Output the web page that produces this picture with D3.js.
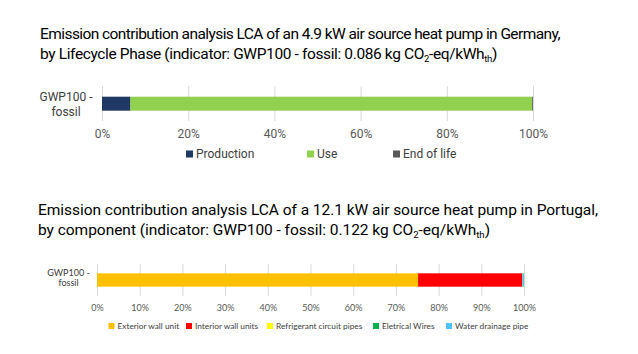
<!DOCTYPE html>
<html>
<head>
<meta charset="utf-8">
<script src="https://cdn.jsdelivr.net/npm/d3@7"></script>
<style>
  body { margin: 0; background: #fff; }
  svg { display: block; }
</style>
</head>
<body>
<svg width="638" height="354"></svg>
<script>
// ---- data
const indicator = 'GWP100 - fossil';

const phases = ['Production', 'Use', 'End of life'];
const phaseShares = [6.6, 93.2, 0.2];
const phaseColors = ['#1f3864', '#92d050', '#595959'];
const phaseTicks = [0, 20, 40, 60, 80, 100];

const components = ['Exterior wall unit', 'Interior wall units', 'Refrigerant circuit pipes', 'Eletrical Wires', 'Water drainage pipe'];
const componentShares = [75.2, 24.4, 0.05, 0.05, 0.3];
const componentColors = ['#ffc000', '#ff0000', '#ffff00', '#00b050', '#4fc3f7'];
const componentTicks = [0, 10, 20, 30, 40, 50, 60, 70, 80, 90, 100];

const svg = d3.select('svg');
svg.append('rect').attr('width', 638).attr('height', 354).attr('fill', '#fff');

// title lines, subscripts as small lowered tspans; letter-spacing stretches to target width
function title(x, y, lines, size, widths) {
    lines.forEach((parts, i) => {
        const t = svg.append('text')
            .attr('x', x).attr('y', y + i * 20)
            .attr('font-family', 'Roboto, sans-serif')
            .attr('font-size', size)
            .attr('fill', '#000');
        let n = 0;
        parts.forEach(p => {
            if (typeof p === 'string') {
                t.append('tspan').attr('dy', p.dy || null).text(p);
                n += p.length;
            } else {
                t.append('tspan').attr('dy', 3).attr('font-size', size * 0.62).text(p.sub);
                t.append('tspan').attr('dy', -3).text(p.after);
                n += p.sub.length + p.after.length;
            }
        });
        const w = t.node().getComputedTextLength();
        t.attr('letter-spacing', (widths[i] - w) / n);
    });
}

function panel(o) {
    const g = svg.append('g').attr('transform', `translate(${o.left}, ${o.top})`);
    const x = d3.scaleLinear().domain([0, 100]).range([0, o.width]);

    g.append('g')
        .attr('transform', `translate(0, ${o.gridH})`)
        .call(d3.axisBottom(x).tickValues(o.ticks).tickSize(-o.gridH).tickFormat(d => d + '%'))
        .call(a => a.select('.domain').remove())
        .call(a => a.selectAll('line').attr('stroke', '#d9d9d9'))
        .call(a => a.selectAll('text')
            .attr('font-family', o.font).attr('font-size', o.tickSize)
            .attr('fill', '#595959').attr('dy', o.tickDy));

    const row = {};
    o.keys.forEach((k, i) => row[k] = o.values[i]);
    const stack = d3.stack().keys(o.keys)([row]);
    const color = d3.scaleOrdinal().domain(o.keys).range(o.colors);

    g.append('g').selectAll('rect')
        .data(stack)
        .join('rect')
        .attr('x', d => x(d[0][0]))
        .attr('width', d => x(d[0][1]) - x(d[0][0]))
        .attr('y', o.barY)
        .attr('height', o.barH)
        .attr('fill', d => color(d.key));

    // category label
    const lab = g.append('text')
        .attr('text-anchor', 'middle')
        .attr('font-family', o.font).attr('font-size', o.labelSize)
        .attr('fill', '#404040');
    const words = indicator.split(' - ');
    lab.append('tspan').attr('x', o.labelX).attr('y', o.labelY).text(words[0] + ' -');
    lab.append('tspan').attr('x', o.labelX).attr('y', o.labelY + o.labelGap).text(words[1]);

    // legend
    const lg = g.append('g').attr('transform', `translate(0, ${o.legendY})`);
    const items = lg.selectAll('g').data(o.keys).join('g')
        .attr('transform', (d, i) => `translate(${o.legendX[i]}, 0)`);
    items.append('rect')
        .attr('x', 0).attr('y', -o.sq / 2).attr('width', o.sq).attr('height', o.sq)
        .attr('fill', d => color(d));
    items.append('text')
        .attr('x', o.sq + o.legendPad).attr('dy', '0.35em')
        .attr('font-family', o.font).attr('font-size', o.legendSize)
        .attr('fill', '#404040')
        .text(d => d);
}

title(40, 39, [
    ['Emission contribution analysis LCA of an 4.9 kW air source heat pump in Germany,'],
    ['by Lifecycle Phase (indicator: GWP100 - fossil: 0.086 kg CO', {sub: '2', after: '-eq/kWh'}, {sub: 'th', after: ')'}]
], 15.5, [520, 457]);

panel({
    left: 102, top: 86, width: 431, gridH: 35,
    ticks: phaseTicks, keys: phases, values: phaseShares, colors: phaseColors,
    barY: 10.7, barH: 14,
    font: 'Roboto, sans-serif', tickSize: 12, tickDy: '1.15em',
    labelX: -36, labelY: 14.5, labelGap: 15, labelSize: 12,
    legendY: 68, legendX: [84, 205, 291], sq: 7, legendPad: 3, legendSize: 12
});

title(38, 215, [
    ['Emission contribution analysis LCA of a 12.1 kW air source heat pump in Portugal,'],
    ['by component (indicator: GWP100 - fossil: 0.122 kg CO', {sub: '2', after: '-eq/kWh'}, {sub: 'th', after: ')'}]
], 15.5, [560, 452]);

panel({
    left: 97, top: 264, width: 427, gridH: 32,
    ticks: componentTicks, keys: components, values: componentShares, colors: componentColors,
    barY: 9.3, barH: 13.4,
    font: 'Lato, sans-serif', tickSize: 9, tickDy: '1.3em',
    labelX: -28.5, labelY: 12, labelGap: 10, labelSize: 9,
    legendY: 62, legendX: [11.5, 89, 170, 276, 349], sq: 6, legendPad: 3, legendSize: 8.3
});
</script>
</body>
</html>
